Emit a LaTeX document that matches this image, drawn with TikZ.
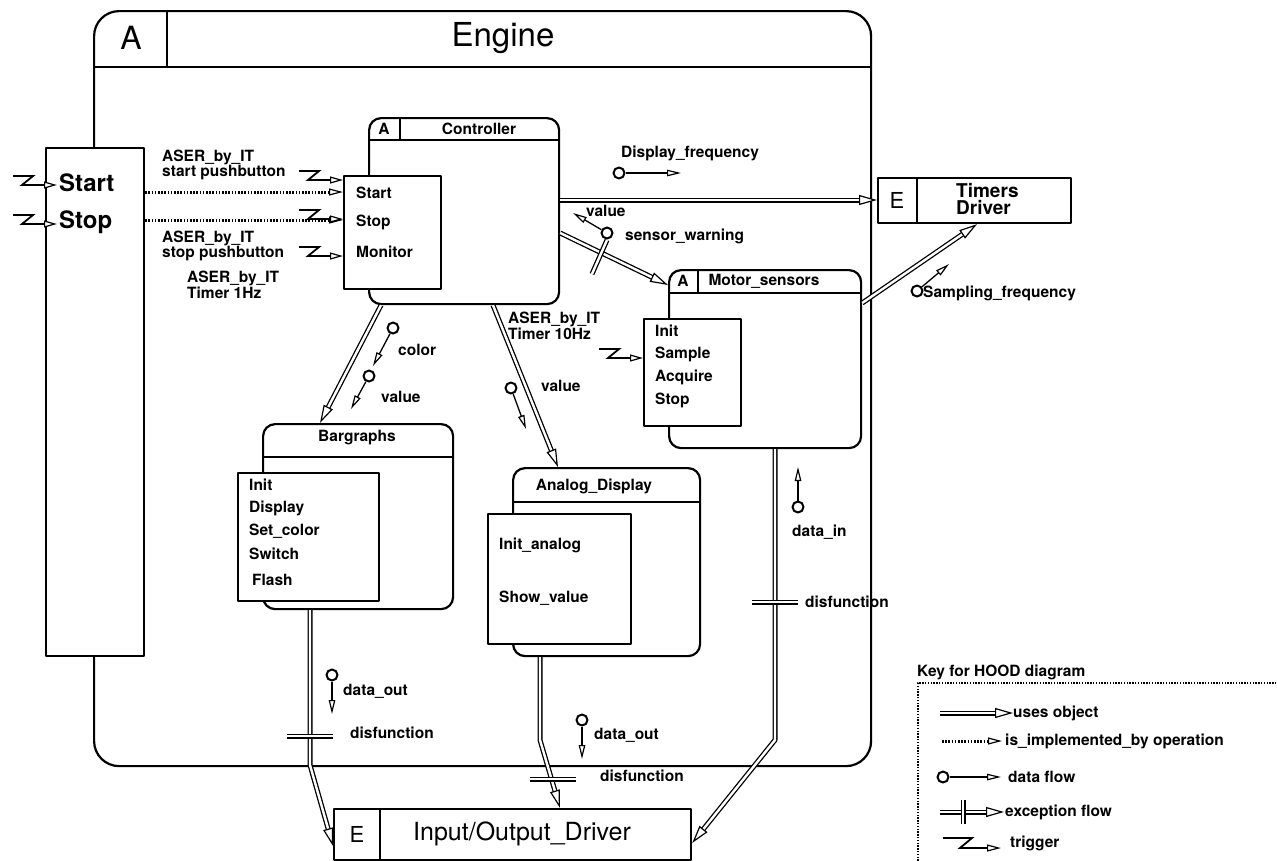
\documentclass[tikz,border=0pt]{standalone}
\usepackage{fontspec}
\setmainfont{TeX Gyre Heros}
\usetikzlibrary{arrows.meta}
\begin{document}
\begin{tikzpicture}[x=1pt,y=-1pt,line join=round,
  lab/.style={font=\fontsize{15.5}{15.5}\selectfont\bfseries, inner sep=0pt, align=left},
  frame/.style={draw, line width=2.2pt, inner sep=0pt},
  rbox/.style={frame, rounded corners=12pt, anchor=north west},
  opbox/.style={frame, fill=white, anchor=north west},
  hline/.style={line width=2.2pt},
  uses/.style={draw=white, line width=1.2pt,
    preaction={-, draw=black, line width=5pt, shorten >=12pt},
    preaction={-, draw=white, line width=2.4pt, shorten >=13pt},
    -{Triangle[length=18pt, width=10pt, color=black, fill=white, line width=1.2pt]}},
  exbar/.style={double=white, double distance=2.4pt, line width=1.3pt},
  impl/.style={line width=3pt, dash pattern=on 1.6pt off 1.6pt,
    -{Triangle[length=14pt, width=7pt, color=black, fill=white, line width=1.2pt]}},
  dflow/.style={line width=1.3pt, -{Triangle[length=14pt, width=6.5pt, fill=white, line width=1.2pt]}},
  dot/.style={circle, draw, line width=2pt, minimum size=11pt, inner sep=0pt, fill=white},
  keybox/.style={line width=2.2pt, dash pattern=on 1.4pt off 1.4pt},
  trig/.pic={
    \draw[line width=1.8pt, line join=miter] (-44,-9) -- (-24,-9) -- (-35,0) -- (-15,0);
    \draw[line width=1.2pt, -{Triangle[length=13pt, width=7pt, fill=white, line width=1.2pt]}] (-16,0) -- (0,0);
  }]
\useasboundingbox (0,0) rectangle (1277,860);

% ---------- Engine ----------
\node[frame, rounded corners=25pt, anchor=north west, minimum width=777pt, minimum height=755pt] (eng) at (93,10) {};
\draw[hline] (93,67) -- (870,67);
\draw[hline] (167,10) -- (167,67);
\node[font=\fontsize{32}{32}\selectfont] (engA) at (131,38) {A};
\node[font=\fontsize{33}{33}\selectfont] (engT) at (503,38) {Engine};

% ---------- Start / Stop ----------
\node[opbox, minimum width=98pt, minimum height=508pt] (sbox) at (45,147) {};
\node[font=\fontsize{24}{24}\selectfont\bfseries, anchor=west, inner sep=0pt] (sStart) at (59,183) {Start};
\node[font=\fontsize{24}{24}\selectfont\bfseries, anchor=west, inner sep=0pt] (sStop) at (59,222) {Stop};
\pic at (57,185) {trig};
\pic at (57,224) {trig};

% ---------- Controller ----------
\node[rbox, minimum width=190pt, minimum height=186pt] (ctrl) at (368,117) {};
\draw[hline] (368,140) -- (558,140);
\draw[hline] (400,117) -- (400,140);
\node[lab] (ctrlA) at (384,129) {A};
\node[lab] (ctrlT) at (479,129) {Controller};
\node[opbox, minimum width=97pt, minimum height=113pt] (cops) at (343,175) {};
\node[lab, anchor=west] (cStart) at (356,193) {Start};
\node[lab, anchor=west] (cStop) at (356,222) {Stop};
\node[lab, anchor=west] (cMon) at (356,252) {Monitor};

\draw[impl] (sbox.east |- 0,192) -- (cops.west |- 0,192);
\draw[impl] (sbox.east |- 0,220) -- (cops.west |- 0,220);
\pic at (343,180) {trig};
\pic at (343,219) {trig};
\pic at (343,256) {trig};
\node[lab, anchor=west] (l1) at (162,165) {ASER\_by\_IT\\start pushbutton};
\node[lab, anchor=west] (l2) at (162,246) {ASER\_by\_IT\\stop pushbutton};
\node[lab, anchor=west] (l3) at (187,285) {ASER\_by\_IT\\Timer 1Hz};

% ---------- Timers Driver ----------
\node[frame, anchor=north west, minimum width=193pt, minimum height=45pt] (tim) at (877,177) {};
\draw[hline] (917,177) -- (917,222);
\node[font=\fontsize{22}{22}\selectfont] (timE) at (897,200) {E};
\node[font=\fontsize{19}{17}\selectfont\bfseries, align=left, anchor=west, inner sep=0pt] (timT) at (956,199) {Timers\\Driver};
\draw[uses] (ctrl.east |- 0,200) -- (tim.west |- 0,200);

\node[lab] (dfl) at (690,153) {Display\_frequency};
\node[dot] (dfd) at (619,173) {};
\coordinate (dft) at (681,173);
\draw[dflow] (dfd) -- (dft);

% ---------- Motor sensors ----------
\node[rbox, minimum width=192pt, minimum height=178pt] (mot) at (668,269) {};
\draw[hline] (668,293) -- (860,293);
\draw[hline] (698,269) -- (698,293);
\node[lab] (motA) at (683,281) {A};
\node[lab] (motT) at (764,281) {Motor\_sensors};
\node[opbox, minimum width=97pt, minimum height=107pt] (mops) at (643,318) {};
\node[lab, anchor=west] (m1) at (655,331) {Init};
\node[lab, anchor=west] (m2) at (655,354) {Sample};
\node[lab, anchor=west] (m3) at (655,377) {Acquire};
\node[lab, anchor=west] (m4) at (655,400) {Stop};
\pic at (643,358) {trig};
\node[lab, anchor=west] (l4) at (508,326) {ASER\_by\_IT\\Timer 10Hz};

% exception flow controller -> motor
\draw[uses] (ctrl.east |- 0,233) -- (mot.west |- 0,285);
\draw[exbar] (607,240) -- (592,274);
\node[dot] (swd) at (607,233) {};
\coordinate (swt) at (573,213);
\draw[dflow] (swd) -- (swt);
\node[lab, anchor=west] (swv) at (586,211) {value};
\node[lab, anchor=west] (swl) at (625,236) {sensor\_warning};

% motor -> timers
\draw[uses] (mot.east |- 0,303) -- (tim.south -| 977,0);
\node[dot] (sfd) at (917,291) {};
\coordinate (sft) at (949,264);
\draw[dflow] (sfd) -- (sft);
\node[lab, anchor=west] (sfl) at (923,293) {Sampling\_frequency};

% ---------- Bargraphs ----------
\node[rbox, minimum width=190pt, minimum height=185pt] (barg) at (262,423) {};
\draw[hline] (262,457) -- (452,457);
\node[lab] (bargT) at (357,438) {Bargraphs};
\node[opbox, minimum width=141pt, minimum height=128pt] (bops) at (237,472) {};
\node[lab, anchor=west] (b1) at (249,485) {Init};
\node[lab, anchor=west] (b2) at (249,508) {Display};
\node[lab, anchor=west] (b3) at (249,531) {Set\_color};
\node[lab, anchor=west] (b4) at (249,554) {Switch};
\node[lab, anchor=west] (b5) at (252,580) {Flash};

\draw[uses] (ctrl.south -| 381,0) -- (barg.north -| 320,0);
\node[dot] (cd) at (393,328) {};
\coordinate (ct) at (373,366);
\draw[dflow] (cd) -- (ct);
\node[lab, anchor=west] (cl) at (398,350) {color};
\node[dot] (vd) at (369,376) {};
\coordinate (vt) at (351,409);
\draw[dflow] (vd) -- (vt);
\node[lab, anchor=west] (vl) at (381,397) {value};

% ---------- Analog display ----------
\node[rbox, minimum width=187pt, minimum height=188pt] (ana) at (512,467) {};
\draw[hline] (512,502) -- (699,502);
\node[lab] (anaT) at (594,486) {Analog\_Display};
\node[opbox, minimum width=143pt, minimum height=130pt] (aops) at (487,513) {};
\node[lab, anchor=west] (a1) at (499,545) {Init\_analog};
\node[lab, anchor=west] (a2) at (499,598) {Show\_value};

\draw[uses] (ctrl.south -| 493,0) -- (ana.north -| 558,0);
\node[dot] (avd) at (511,388) {};
\coordinate (avt) at (526,429);
\draw[dflow] (avd) -- (avt);
\node[lab, anchor=west] (avl) at (541,386) {value};

% ---------- Input/Output driver ----------
\node[frame, anchor=north west, minimum width=357pt, minimum height=51pt] (io) at (333,808) {};
\draw[hline] (380,808) -- (380,860);
\node[font=\fontsize{22}{22}\selectfont] (ioE) at (357,834) {E};
\node[font=\fontsize{25}{25}\selectfont] (ioT) at (522,834) {Input/Output\_Driver};

% bargraphs -> io
\draw[uses] (barg.south -| 310,0) -- (310,765) -- (io.west |- 0,846);
\draw[exbar] (287,736) -- (333,736);
\node[lab, anchor=west] (bx) at (350,733) {disfunction};
\node[dot] (bod) at (332,675) {};
\coordinate (bot) at (332,714);
\draw[dflow] (bod) -- (bot);
\node[lab, anchor=west] (bol) at (343,691) {data\_out};

% analog -> io
\draw[uses] (ana.south -| 540,0) -- (540,740) -- (io.north -| 560,0);
\draw[exbar] (530,779) -- (576,779);
\node[lab, anchor=west] (ax) at (600,776) {disfunction};
\node[dot] (aod) at (582,720) {};
\coordinate (aot) at (582,759);
\draw[dflow] (aod) -- (aot);
\node[lab, anchor=west] (aol) at (594,735) {data\_out};

% motor -> io
\draw[uses] (mot.south -| 775,0) -- (775,740) -- (io.east |- 0,843);
\draw[exbar] (752,602) -- (798,602);
\node[lab, anchor=west] (mx) at (805,602) {disfunction};
\node[dot] (mid) at (798,507) {};
\coordinate (mit) at (798,467);
\draw[dflow] (mid) -- (mit);
\node[lab, anchor=west] (mil) at (792,532) {data\_in};

% ---------- Key ----------
\node[lab, anchor=west] (keyT) at (917,672) {Key for HOOD diagram};
\coordinate (kTR) at (1282,683);
\coordinate (kTL) at (918,683);
\coordinate (kBL) at (918,866);
\draw[keybox] (kTR) -- (kTL) -- (kBL);

\coordinate (k1a) at (940,713); \coordinate (k1b) at (1013,713);
\draw[uses] (k1a) -- (k1b);
\node[lab, anchor=west] (k1) at (1013,713) {uses object};

\coordinate (k2a) at (942,741); \coordinate (k2b) at (1002,741);
\draw[impl] (k2a) -- (k2b);
\node[lab, anchor=west] (k2) at (1005,741) {is\_implemented\_by operation};

\node[dot] (k3d) at (943,777) {};
\coordinate (k3b) at (1001,777);
\draw[dflow] (k3d) -- (k3b);
\node[lab, anchor=west] (k3) at (1008,777) {data flow};

\coordinate (k4a) at (940,812); \coordinate (k4b) at (1004,812);
\draw[uses] (k4a) -- (k4b);
\draw[exbar] (963,800) -- (963,824);
\node[lab, anchor=west] (k4) at (1005,812) {exception flow};

\draw[line width=1.8pt, line join=miter] (943,838) -- (972,838) -- (960,848) -- (986,848);
\coordinate (k5a) at (985,848); \coordinate (k5b) at (1001,848);
\draw[line width=1.2pt, -{Triangle[length=14pt, width=7pt, fill=white, line width=1.2pt]}] (k5a) -- (k5b);
\node[lab, anchor=west] (k5) at (1010,843) {trigger};
\end{tikzpicture}
\end{document}
